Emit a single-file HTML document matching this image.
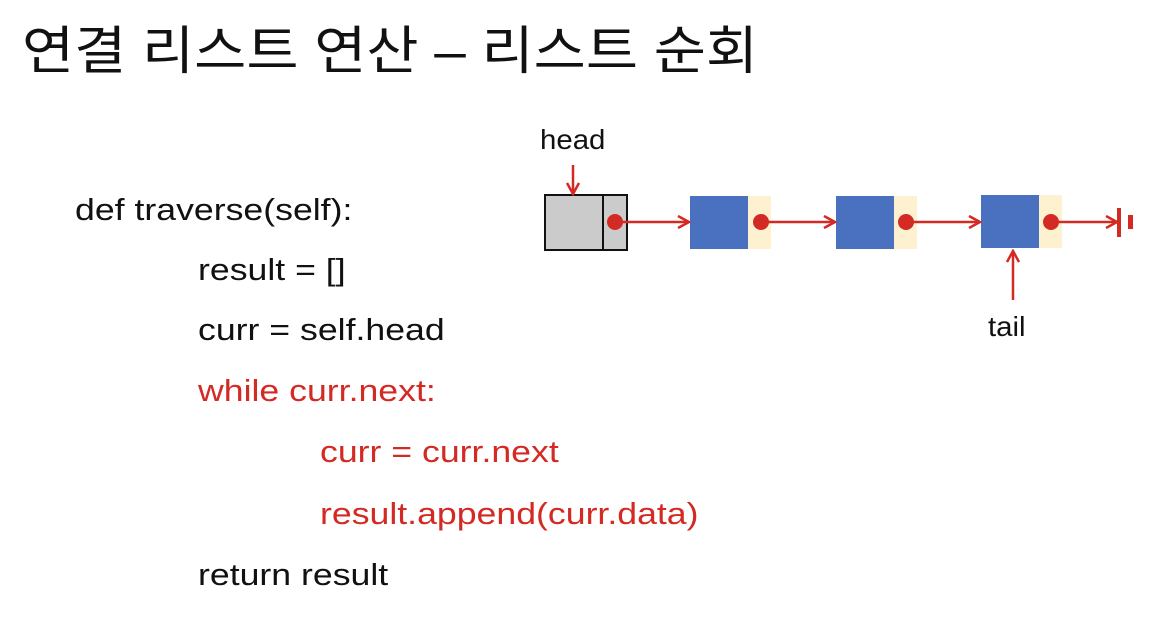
<!DOCTYPE html>
<html><head><meta charset="utf-8"><style>
body{margin:0;width:1166px;height:634px;background:#fff;position:relative;overflow:hidden;font-family:"Liberation Sans","Noto Sans CJK KR",sans-serif;}
.t{position:absolute;white-space:nowrap;line-height:1;transform-origin:left top;}
.c{font-size:31px;color:#111;transform:scaleX(1.15);}
.r{color:#d42a24;}
</style></head><body>
<div class="t" style="left:22px;top:26px;font-size:52px;color:#111;transform:scaleX(1.09);">연결 리스트 연산 – 리스트 순회</div>
<div class="t c" style="left:75px;top:194px;">def traverse(self):</div>
<div class="t c" style="left:198px;top:254px;">result = []</div>
<div class="t c" style="left:198px;top:314px;">curr = self.head</div>
<div class="t c r" style="left:198px;top:375px;">while curr.next:</div>
<div class="t c r" style="left:320px;top:436px;">curr = curr.next</div>
<div class="t c r" style="left:320px;top:498px;">result.append(curr.data)</div>
<div class="t c" style="left:198px;top:559px;">return result</div>
<div class="t" style="left:540px;top:126px;font-size:28px;color:#111;transform:scaleX(1.05);">head</div>
<div class="t" style="left:988px;top:313px;font-size:28px;color:#111;transform:scaleX(1.05);">tail</div>
<svg width="1166" height="634" style="position:absolute;left:0;top:0">
<defs><marker id="a" markerWidth="14" markerHeight="14" refX="12" refY="7" orient="auto" markerUnits="userSpaceOnUse"><path d="M1,1 L12,7 L1,13" fill="none" stroke="#d42a24" stroke-width="2.5"/></marker></defs>
<rect x="545" y="195" width="82" height="55" fill="#cccbcc" stroke="#111" stroke-width="2"/>
<line x1="603" y1="195" x2="603" y2="250" stroke="#111" stroke-width="2"/>
<g fill="#fdf1cf"><rect x="748" y="196" width="23" height="53"/><rect x="894" y="196" width="23" height="53"/><rect x="1039" y="195" width="23" height="53"/></g>
<g fill="#4a70c0"><rect x="690" y="196" width="58" height="53"/><rect x="836" y="196" width="58" height="53"/><rect x="981" y="195" width="58" height="53"/></g>
<g stroke="#d42a24" stroke-width="2.5" marker-end="url(#a)">
<line x1="615" y1="222" x2="689" y2="222"/><line x1="761" y1="222" x2="835" y2="222"/><line x1="906" y1="222" x2="980" y2="222"/><line x1="1051" y1="222" x2="1117" y2="222"/>
<line x1="573" y1="165" x2="573" y2="194"/><line x1="1013" y1="300" x2="1013" y2="251"/></g>
<g fill="#d42a24"><circle cx="615" cy="222" r="8"/><circle cx="761" cy="222" r="8"/><circle cx="906" cy="222" r="8"/><circle cx="1051" cy="222" r="8"/>
<rect x="1117" y="208" width="4" height="29"/><rect x="1128" y="215" width="5" height="14"/></g>
</svg>
</body></html>
